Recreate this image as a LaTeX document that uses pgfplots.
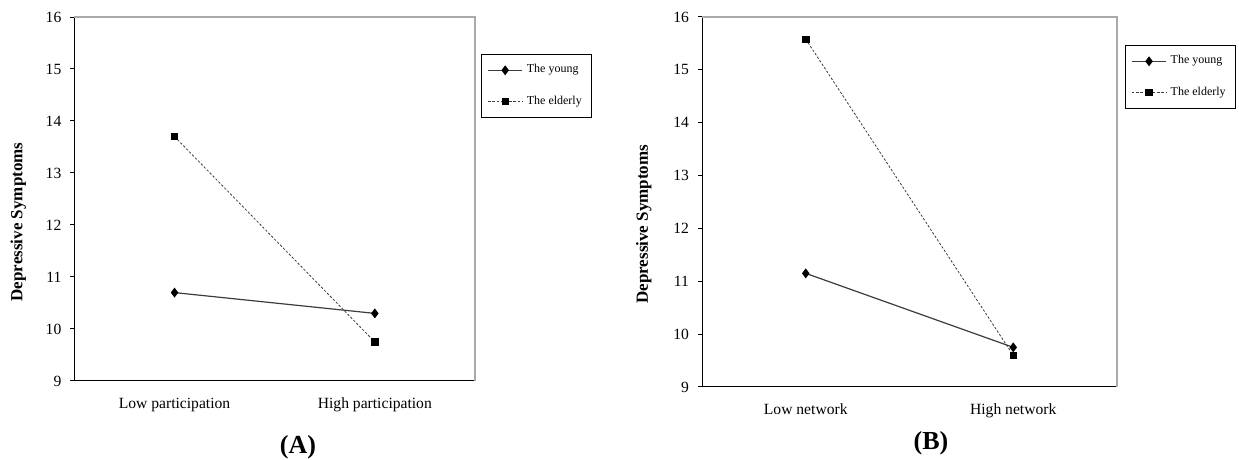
\documentclass[border=0pt]{standalone}
\usepackage{fontspec}
\setmainfont{Liberation Serif}
\usepackage{pgfplots}
\pgfplotsset{compat=1.18}
\definecolor{linegray}{RGB}{60,60,60}
\definecolor{framegray}{RGB}{170,170,170}
\pgfplotsset{
  myaxis/.style={
    scale only axis,
    anchor=south west,
    xmin=0, xmax=2, ymin=9, ymax=16,
    ytick={9,10,...,16},
    xtick={0.5,1.5},
    major x tick style={draw=none},
    extra x ticks={0,1,2},
    extra x tick labels={},
    extra x tick style={major tick length=2pt, tick style={draw=black}},
    major tick length=2pt,
    tick align=outside,
    xtick pos=bottom, ytick pos=left,
    axis x line*=bottom, axis y line*=left,
    axis line style={black, line width=0.5pt},
    tick style={black, line width=0.5pt},
    /pgf/number format/assume math mode=true,
    tick label style={font=\fontsize{7.8}{9}\selectfont},
    yticklabel style={xshift=-1pt},
    xticklabel style={yshift=-3pt},
    ylabel={\bfseries Depressive Symptoms},
    ylabel style={font=\fontsize{8.5}{10}\selectfont, anchor=center},
    legend style={font=\fontsize{6}{7}\selectfont, draw=black, line width=0.5pt,
      cells={anchor=west}, row sep=6pt, inner sep=3pt},
    legend cell align=left,
    clip=false,
  },
  young/.style={linegray, line width=0.6pt, mark=diamond*, mark size=2pt,
    mark options={solid, fill=black, draw=black}},
  elderly/.style={linegray, line width=0.4pt, dash pattern=on 1.2pt off 0.9pt,
    mark=square*, mark size=1.6pt, mark options={solid, fill=black, draw=black}},
}
\begin{document}
\begin{tikzpicture}[x=1pt,y=1pt]
\useasboundingbox (0,0) rectangle (619.5,230);
% Panel A
\begin{axis}[myaxis,
  at={(37.2pt,39.5pt)}, width=200.3pt, height=182pt,
  xticklabels={Low participation, High participation},
  ylabel style={at={(axis description cs:-0.14,0.437)}},
  legend style={at={(axis description cs:1.015,0.898)}, anchor=north west},
]
\addplot[young] coordinates {(0.5,10.7) (1.5,10.3)};
\addlegendentry{The young}
\addplot[elderly] coordinates {(0.5,13.7) (1.5,9.75)};
\addlegendentry{The elderly}
\draw[framegray, line width=0.6pt] (rel axis cs:0,1) -- (rel axis cs:1,1) -- (rel axis cs:1,0);
\end{axis}
% Panel B
\begin{axis}[myaxis,
  at={(351pt,36.5pt)}, width=207.5pt, height=185pt,
  xticklabels={Low network, High network},
  ylabel style={at={(axis description cs:-0.14,0.44)}},
  legend style={at={(axis description cs:1.019,0.924)}, anchor=north west},
]
\addplot[young] coordinates {(0.5,11.15) (1.5,9.75)};
\addlegendentry{The young}
\addplot[elderly] coordinates {(0.5,15.58) (1.5,9.6)};
\addlegendentry{The elderly}
\draw[framegray, line width=0.6pt] (rel axis cs:0,1) -- (rel axis cs:1,1) -- (rel axis cs:1,0);
\end{axis}
\node[font=\fontsize{13}{15}\selectfont\bfseries] at (149,6.5) {(A)};
\node[font=\fontsize{13}{15}\selectfont\bfseries] at (465.5,8.5) {(B)};
\end{tikzpicture}
\end{document}
